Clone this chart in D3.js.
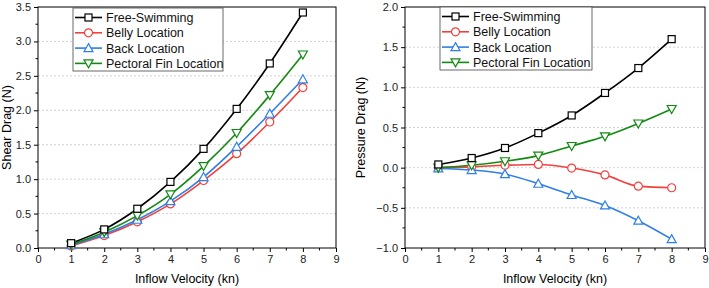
<!DOCTYPE html>
<html>
<head>
<meta charset="utf-8">
<script src="https://cdn.jsdelivr.net/npm/d3@7"></script>
<style>
  body { margin: 0; background: #fff; }
  svg { font-family: "Liberation Sans", Arial, sans-serif; }
</style>
</head>
<body>
<svg id="chart" width="709" height="288"></svg>
<script>
var velocity = [1, 2, 3, 4, 5, 6, 7, 8];
var seriesNames = ["Free-Swimming", "Belly Location", "Back Location", "Pectoral Fin Location"];
var seriesColors = ["#000000", "#f2403c", "#2f7fe6", "#128a12"];
var seriesSymbols = ["square", "circle", "triangle", "triangleDown"];

var shearFree = [0.07, 0.27, 0.57, 0.96, 1.44, 2.02, 2.68, 3.42];
var shearBelly = [0.03, 0.18, 0.38, 0.64, 0.98, 1.37, 1.83, 2.33];
var shearBack = [0.04, 0.20, 0.41, 0.68, 1.03, 1.47, 1.95, 2.45];
var shearFin = [0.05, 0.23, 0.47, 0.78, 1.19, 1.67, 2.22, 2.81];

var pressFree = [0.04, 0.12, 0.245, 0.43, 0.65, 0.93, 1.24, 1.60];
var pressBelly = [0.00, 0.01, 0.03, 0.04, -0.005, -0.09, -0.23, -0.25];
var pressBack = [-0.01, -0.03, -0.08, -0.20, -0.34, -0.47, -0.66, -0.89];
var pressFin = [0.00, 0.03, 0.08, 0.15, 0.27, 0.39, 0.55, 0.73];

var xTicks = [0, 1, 2, 3, 4, 5, 6, 7, 8, 9];
var shearTicks = [0.0, 0.5, 1.0, 1.5, 2.0, 2.5, 3.0, 3.5];
var pressTicks = [-1.0, -0.5, 0.0, 0.5, 1.0, 1.5, 2.0];

var svg = d3.select("#chart");

function drawMarker(g, type, color) {
  if (type === "square") {
    g.append("rect").attr("x", -3.5).attr("y", -3.5).attr("width", 7).attr("height", 7);
  } else if (type === "circle") {
    g.append("circle").attr("r", 4);
  } else if (type === "triangle") {
    g.append("path").attr("d", "M0,-4.5L4.5,3.5L-4.5,3.5Z");
  } else {
    g.append("path").attr("d", "M0,4.5L4.5,-3.5L-4.5,-3.5Z");
  }
  g.selectAll("*").attr("fill", "#fff").attr("stroke", color).attr("stroke-width", 1.2);
}

function drawPanel(opt) {
  var x = d3.scaleLinear().domain([0, 9]).range([opt.left, opt.right]);
  var y = d3.scaleLinear().domain(opt.yDomain).range([opt.bottom, opt.top]);
  var g = svg.append("g");

  // grid
  g.selectAll(".grid").data(opt.yTicks.slice(1, -1)).join("line")
    .attr("x1", opt.left).attr("x2", opt.right)
    .attr("y1", function(d) { return y(d); }).attr("y2", function(d) { return y(d); })
    .attr("stroke", "#c8c8c8").attr("stroke-dasharray", "2,2").attr("stroke-width", 0.8);

  // frame
  g.append("rect").attr("x", opt.left).attr("y", opt.top)
    .attr("width", opt.right - opt.left).attr("height", opt.bottom - opt.top)
    .attr("fill", "none").attr("stroke", "#000").attr("stroke-width", 1);

  // minor ticks
  var xMinor = d3.range(0.5, 9, 1);
  g.selectAll(".xminor").data(xMinor).join("line")
    .attr("x1", function(d) { return x(d); }).attr("x2", function(d) { return x(d); })
    .attr("y1", opt.bottom).attr("y2", opt.bottom + 2.5)
    .attr("stroke", "#000");
  var yMinor = d3.range(opt.yDomain[0] + 0.25, opt.yDomain[1], 0.5);
  g.selectAll(".yminor").data(yMinor).join("line")
    .attr("x1", opt.left - 2.5).attr("x2", opt.left)
    .attr("y1", function(d) { return y(d); }).attr("y2", function(d) { return y(d); })
    .attr("stroke", "#000");

  var xAxis = g.append("g").attr("transform", "translate(0," + opt.bottom + ")")
    .call(d3.axisBottom(x).tickValues(xTicks).tickSize(4).tickFormat(d3.format("d")));
  var yAxis = g.append("g").attr("transform", "translate(" + opt.left + ",0)")
    .call(d3.axisLeft(y).tickValues(opt.yTicks).tickSize(4).tickFormat(d3.format(".1f")));
  [xAxis, yAxis].forEach(function(a) {
    a.select(".domain").remove();
    a.selectAll("text").attr("font-size", 11).attr("fill", "#222").attr("font-family", "Liberation Sans, Arial, sans-serif");
  });

  // axis titles
  g.append("text").attr("x", (opt.left + opt.right) / 2).attr("y", 283)
    .attr("text-anchor", "middle").attr("font-size", 12.5).text("Inflow Velocity (kn)");
  g.append("text")
    .attr("transform", "translate(" + opt.yLabelX + "," + (opt.top + opt.bottom) / 2 + ")rotate(-90)")
    .attr("text-anchor", "middle").attr("font-size", 12.5).text(opt.yLabel);

  var line = d3.line()
    .x(function(d, i) { return x(velocity[i]); })
    .y(function(d) { return y(d); })
    .curve(d3.curveMonotoneX);

  // draw back to front
  var order = [1, 2, 3, 0];
  order.forEach(function(s) {
    g.append("path").datum(opt.series[s]).attr("d", line)
      .attr("fill", "none").attr("stroke", seriesColors[s]).attr("stroke-width", 1.6);
  });
  order.forEach(function(s) {
    opt.series[s].forEach(function(v, i) {
      var mg = g.append("g").attr("transform", "translate(" + x(velocity[i]) + "," + y(v) + ")");
      drawMarker(mg, seriesSymbols[s], seriesColors[s]);
    });
  });

  // legend
  var lg = g.append("g");
  lg.append("rect").attr("x", opt.legX).attr("y", opt.legY)
    .attr("width", opt.legW).attr("height", 63)
    .attr("fill", "#fff").attr("stroke", "#444").attr("stroke-width", 0.8);
  seriesNames.forEach(function(name, s) {
    var ry = opt.legY + 9.5 + s * 15.3;
    lg.append("line").attr("x1", opt.legX + 2).attr("x2", opt.legX + 29)
      .attr("y1", ry).attr("y2", ry)
      .attr("stroke", seriesColors[s]).attr("stroke-width", 1.6);
    var mg = lg.append("g").attr("transform", "translate(" + (opt.legX + 15.5) + "," + ry + ")");
    drawMarker(mg, seriesSymbols[s], seriesColors[s]);
    lg.append("text").attr("x", opt.legX + 33).attr("y", ry + 4.5)
      .attr("font-size", 12.5).attr("fill", "#111").text(name);
  });
}

drawPanel({
  left: 38, right: 336, top: 7, bottom: 248,
  yDomain: [0, 3.5], yTicks: shearTicks, yLabel: "Shear Drag (N)", yLabelX: 11,
  series: [shearFree, shearBelly, shearBack, shearFin],
  legX: 73, legY: 8, legW: 150
});

drawPanel({
  left: 405, right: 705, top: 7, bottom: 248,
  yDomain: [-1, 2], yTicks: pressTicks, yLabel: "Pressure Drag (N)", yLabelX: 365,
  series: [pressFree, pressBelly, pressBack, pressFin],
  legX: 440, legY: 7, legW: 152
});
</script>
</body>
</html>
